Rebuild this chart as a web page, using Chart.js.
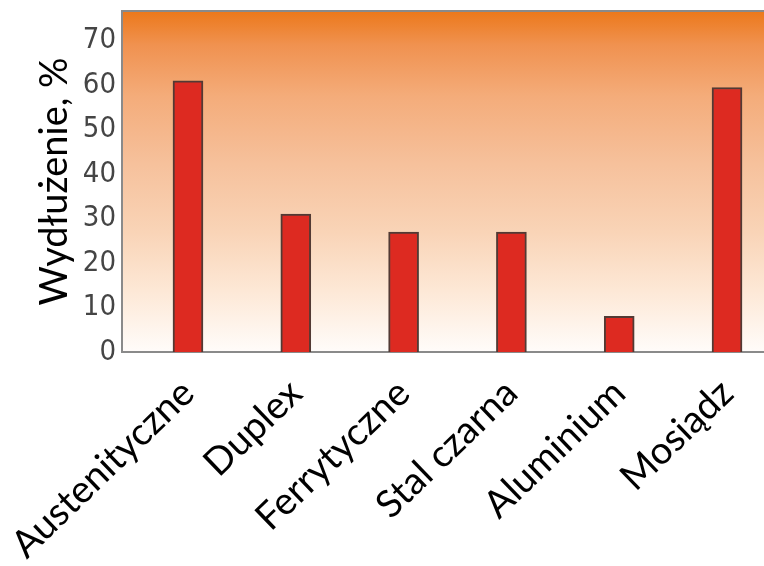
<!DOCTYPE html>
<html>
<head>
<meta charset="utf-8">
<style>
  html, body {
    margin: 0;
    padding: 0;
    background: #fff;
    overflow: hidden;
  }
  #wrap {
    width: 764px;
    height: 566px;
  }
</style>
</head>
<body>
<div id="wrap">
  <canvas id="myChart" width="764" height="566"></canvas>
</div>

<script src="https://cdn.jsdelivr.net/npm/chart.js"></script>
<script>
  // data
  const categories = ['Austenityczne', 'Duplex', 'Ferrytyczne', 'Stal czarna', 'Aluminium', 'Mosiądz'];
  const elongation = [61, 31, 27, 27, 8, 59.5];
  const yTicks = [0, 10, 20, 30, 40, 50, 60, 70];

  // orange gradient behind the bars, plus the frame lines
  const plotBackground = {
    id: 'plotBackground',
    beforeDraw(chart) {
      const { ctx, chartArea: a } = chart;
      const g = ctx.createLinearGradient(0, a.top, 0, a.bottom);
      g.addColorStop(0, '#ec781a');
      g.addColorStop(0.1, '#f09250');
      g.addColorStop(0.25, '#f4ac7a');
      g.addColorStop(0.45, '#f6c19c');
      g.addColorStop(0.65, '#f9d4b7');
      g.addColorStop(0.82, '#fde8d6');
      g.addColorStop(1, '#fffcfa');
      ctx.save();
      ctx.fillStyle = g;
      ctx.fillRect(a.left, a.top, a.right - a.left, a.bottom - a.top);
      ctx.strokeStyle = '#8a8a8a';
      ctx.lineWidth = 2;
      ctx.beginPath();
      ctx.moveTo(a.right, a.top);
      ctx.lineTo(a.left, a.top);
      ctx.lineTo(a.left, a.bottom);
      ctx.lineTo(a.right, a.bottom);
      ctx.stroke();
      ctx.restore();
    }
  };

  document.addEventListener('DOMContentLoaded', function () {
    const ctx = document.getElementById('myChart');
    new Chart(ctx, {
      type: 'bar',
      data: {
        datasets: [{
          data: categories.map((c, i) => ({ x: i, y: elongation[i] })),
          backgroundColor: '#dd2a21',
          borderColor: '#523a34',
          borderWidth: 2,
          barThickness: 30
        }]
      },
      options: {
        responsive: false,
        animation: false,
        layout: { padding: { top: 11, right: 0, left: 0, bottom: 0 } },
        plugins: {
          legend: { display: false },
          tooltip: { enabled: false }
        },
        scales: {
          x: {
            type: 'linear',
            offset: false,
            min: -0.612,
            max: 5.343,
            grid: { display: false, drawTicks: false },
            border: { display: false },
            afterBuildTicks: (scale) => {
              scale.ticks = categories.map((c, i) => ({ value: i }));
            },
            afterFit: (scale) => {
              scale.height = 214;
              scale.paddingLeft = 0;
              scale.paddingRight = 0;
            },
            ticks: {
              autoSkip: false,
              minRotation: 44,
              maxRotation: 44,
              padding: 24,
              color: '#000',
              font: { family: 'Lato', size: 38, lineHeight: 0.8 },
              callback: (v) => categories[v]
            }
          },
          y: {
            min: 0,
            max: 76.7,
            grid: { display: false, drawTicks: false },
            border: { display: false },
            afterBuildTicks: (scale) => {
              scale.ticks = yTicks.map(v => ({ value: v }));
            },
            afterFit: (scale) => {
              scale.width = 122;
              scale.paddingTop = 0;
              scale.paddingBottom = 0;
            },
            ticks: {
              padding: 6,
              color: '#454545',
              font: { family: '"Liberation Sans Narrow", "DejaVu Sans Condensed", sans-serif', size: 29 }
            },
            title: {
              display: true,
              text: 'Wydłużenie, %',
              color: '#000',
              font: { family: 'Lato', size: 38 },
              padding: { top: 32, bottom: 0 }
            }
          }
        }
      },
      plugins: [plotBackground]
    });
  });
</script>
</body>
</html>
